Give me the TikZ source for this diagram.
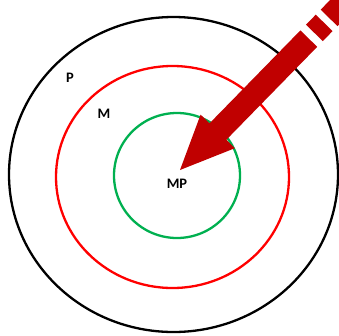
\documentclass[tikz,border=0pt]{standalone}
\usepackage{fontspec}
\setmainfont{Carlito}
\definecolor{arrowred}{HTML}{C00000}
\definecolor{ringred}{HTML}{FF0000}
\definecolor{ringgreen}{HTML}{00B050}
\begin{document}
\begin{tikzpicture}[x=1pt,y=-1pt,
  ring/.style={line width=2.3pt},
  lbl/.style={font=\fontsize{14.5}{14.5}\selectfont\bfseries, inner sep=0pt}]
\useasboundingbox (0,0) rectangle (339,335);
\clip (0,0) rectangle (339,335);
\fill[white] (0,0) rectangle (339,335);
\draw[ring, black] (173.5,174.5) ellipse [x radius=164.5, y radius=157.5];
\draw[ring, ringred] (172.5,177) ellipse [x radius=116.5, y radius=111];
\draw[ring, ringgreen] (177,175.5) ellipse [x radius=63, y radius=62.5];
\node[lbl] (p) at (70,78) {P};
\node[lbl] (m) at (104,113.5) {M};
\node[lbl] (mp) at (177,184) {MP};
\begin{scope}[shift={(180,170)}, x={(0.699pt,0.715pt)}, y={(0.715pt,-0.699pt)}]
  \fill[arrowred] (0,0) -- (54,-24) -- (54,-11.5) -- (184,-11.5) -- (184,12) -- (54,12) -- (54,24) -- cycle;
  \fill[arrowred] (192,-11.5) -- (206,-11.5) -- (206,12) -- (192,12) -- cycle;
  \fill[arrowred] (213,-11.5) -- (240,-11.5) -- (240,12) -- (213,12) -- cycle;
\end{scope}
\end{tikzpicture}
\end{document}
